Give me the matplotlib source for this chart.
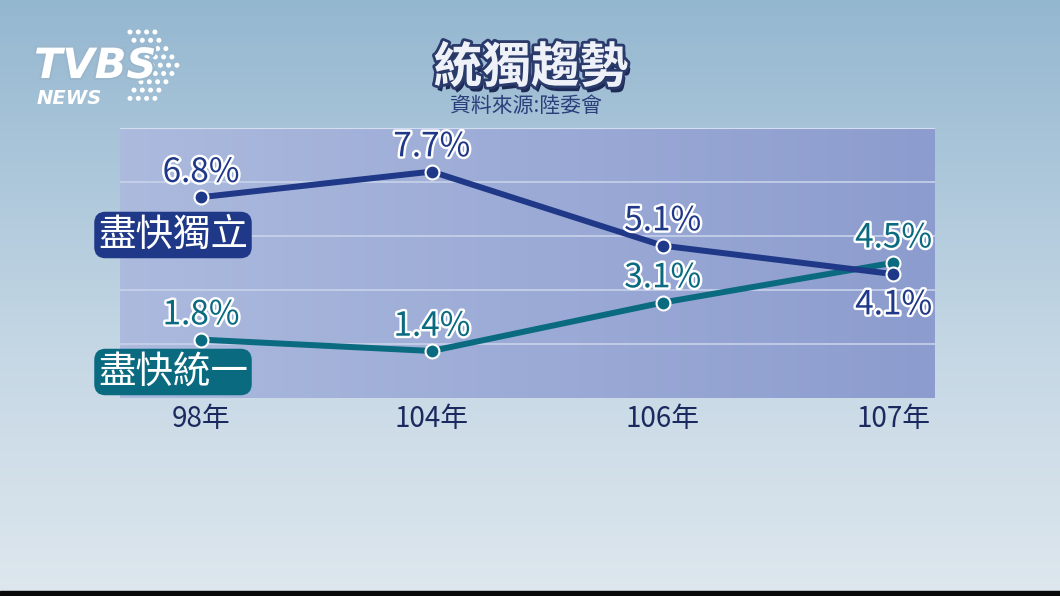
import numpy as np
import matplotlib
matplotlib.use("Agg")
import matplotlib.pyplot as plt
import matplotlib.patheffects as pe
from matplotlib.patches import Rectangle, Ellipse

plt.rcParams['font.family'] = ['Noto Sans CJK TC', 'DejaVu Sans']

# ---- data ----
years = ['98年', '104年', '106年', '107年']
independence = [6.8, 7.7, 5.1, 4.1]
unification = [1.8, 1.4, 3.1, 4.5]
series_names = ['盡快獨立', '盡快統一']
title = '統獨趨勢'
source = '資料來源:陸委會'

NAVY = '#1f3887'
TEAL = '#0a6a80'
TICK = '#1b2a5e'

W, H = 1060, 596
fig = plt.figure(figsize=(W / 100, H / 100), dpi=100)

# background gradient
bg = fig.add_axes([0, 0, 1, 1], zorder=0)
bg.set_axis_off()
top = np.array([148, 183, 208]) / 255
mid = np.array([198, 216, 229]) / 255
bot = np.array([222, 231, 238]) / 255
rows = []
for v in np.linspace(0, 1, 256):
    if v < 0.6:
        c = top + (mid - top) * (v / 0.6)
    else:
        c = mid + (bot - mid) * ((v - 0.6) / 0.4)
    rows.append(c)
img = np.array(rows)[:, None, :].repeat(4, axis=1)
bg.imshow(img, aspect='auto', extent=[0, 1, 0, 1], origin='upper')
bg.set_xlim(0, 1)
bg.set_ylim(0, 1)
bg.add_patch(Rectangle((0, 0), 1, 5 / H, color='#0a0a0a', transform=bg.transAxes))

# plot axes
left, right, topp, bottom = 120, 935, 128, 398
ax = fig.add_axes([left / W, 1 - bottom / H, (right - left) / W, (bottom - topp) / H], zorder=1)
ymin, ymax = -0.25, 9.23
ax.set_xlim(-0.35, 3.18)
ax.set_ylim(ymin, ymax)
xg = np.linspace(0, 1, 256)[None, :]
lc = np.array([172, 186, 222]) / 255
rc = np.array([140, 156, 206]) / 255
area = lc[None, None, :] + (rc - lc)[None, None, :] * xg[..., None]
area = area.repeat(4, axis=0)
ax.imshow(area, aspect='auto', extent=[-0.35, 3.18, ymin, ymax], zorder=0)
for k in range(1, 5):
    ax.axhline(ymin + k * (ymax - ymin) / 5, color='#c8d2ea', lw=1.2, zorder=1)
ax.axhline(ymax, color='#d4def0', lw=1.5, zorder=1)
for s in ax.spines.values():
    s.set_visible(False)
ax.set_yticks([])
x = np.arange(len(years))
ax.set_xticks(x)
ax.set_xticklabels(years, fontsize=20, color=TICK)
ax.tick_params(axis='x', length=0, pad=4)

ax.plot(x, unification, color=TEAL, lw=4.3, zorder=3, solid_capstyle='round')
ax.plot(x, independence, color=NAVY, lw=4.3, zorder=4, solid_capstyle='round')
ax.plot(x, unification, 'o', color=TEAL, ms=10, mec='white', mew=1.5, zorder=5)
ax.plot(x, independence, 'o', color=NAVY, ms=10, mec='white', mew=1.5, zorder=5)

stroke = [pe.withStroke(linewidth=3.5, foreground='white')]
for i, v in enumerate(independence):
    off = -29 if i == 3 else 11
    ax.annotate(f'{v}%', (x[i], v), xytext=(0, off), textcoords='offset points',
                ha='center', va='baseline', fontsize=24, color=NAVY,
                path_effects=stroke, zorder=6)
for i, v in enumerate(unification):
    ax.annotate(f'{v}%', (x[i], v), xytext=(0, 11), textcoords='offset points',
                ha='center', va='baseline', fontsize=24, color=TEAL,
                path_effects=stroke, zorder=6)

# series label boxes
for name, col, cy in [(series_names[0], NAVY, 235), (series_names[1], TEAL, 372)]:
    fig.text(173 / W, 1 - cy / H, name, ha='center', va='center', fontsize=27,
             color='white', zorder=10,
             bbox=dict(boxstyle='round,pad=0.1,rounding_size=0.3', fc=col, ec='none'))

# title
fig.text(531 / W, 1 - 68 / H, title, ha='center', va='center', fontsize=35,
         fontweight='bold', color='#eef2f8', zorder=10,
         path_effects=[pe.withSimplePatchShadow(offset=(2, -4), shadow_rgbFace='#1c2a55', alpha=1.0),
                       pe.withStroke(linewidth=4, foreground='#2a3a6a')])
fig.text(526 / W, 1 - 106 / H, source, ha='center', va='center', fontsize=15,
         color='#2b3f7a', zorder=10)

# logo dots (arrow)
starts = [130, 134, 141, 147, 152, 147, 141, 134, 130]
counts = [4, 4, 4, 4, 4, 4, 4, 4, 4]
for r, (sx, n) in enumerate(zip(starts, counts)):
    py = 32 + r * 8.3
    for c in range(n):
        px = sx + c * 8.3
        bg.add_patch(Ellipse((px / W, 1 - py / H), 5.0 / W, 5.0 / H, color='white',
                             transform=bg.transAxes, zorder=3, lw=0))
# logo text
fig.text(34 / W, 1 - 66 / H, 'TVBS', ha='left', va='center', fontsize=30,
         fontweight='bold', style='italic', color='white', family='DejaVu Sans',
         zorder=10, path_effects=[pe.withStroke(linewidth=3, foreground='#9ab7cd')])
fig.text(37 / W, 1 - 98 / H, 'NEWS', ha='left', va='center', fontsize=14,
         fontweight='bold', style='italic', color='white', family='DejaVu Sans',
         zorder=10)

fig.savefig('out.png', dpi=100)
